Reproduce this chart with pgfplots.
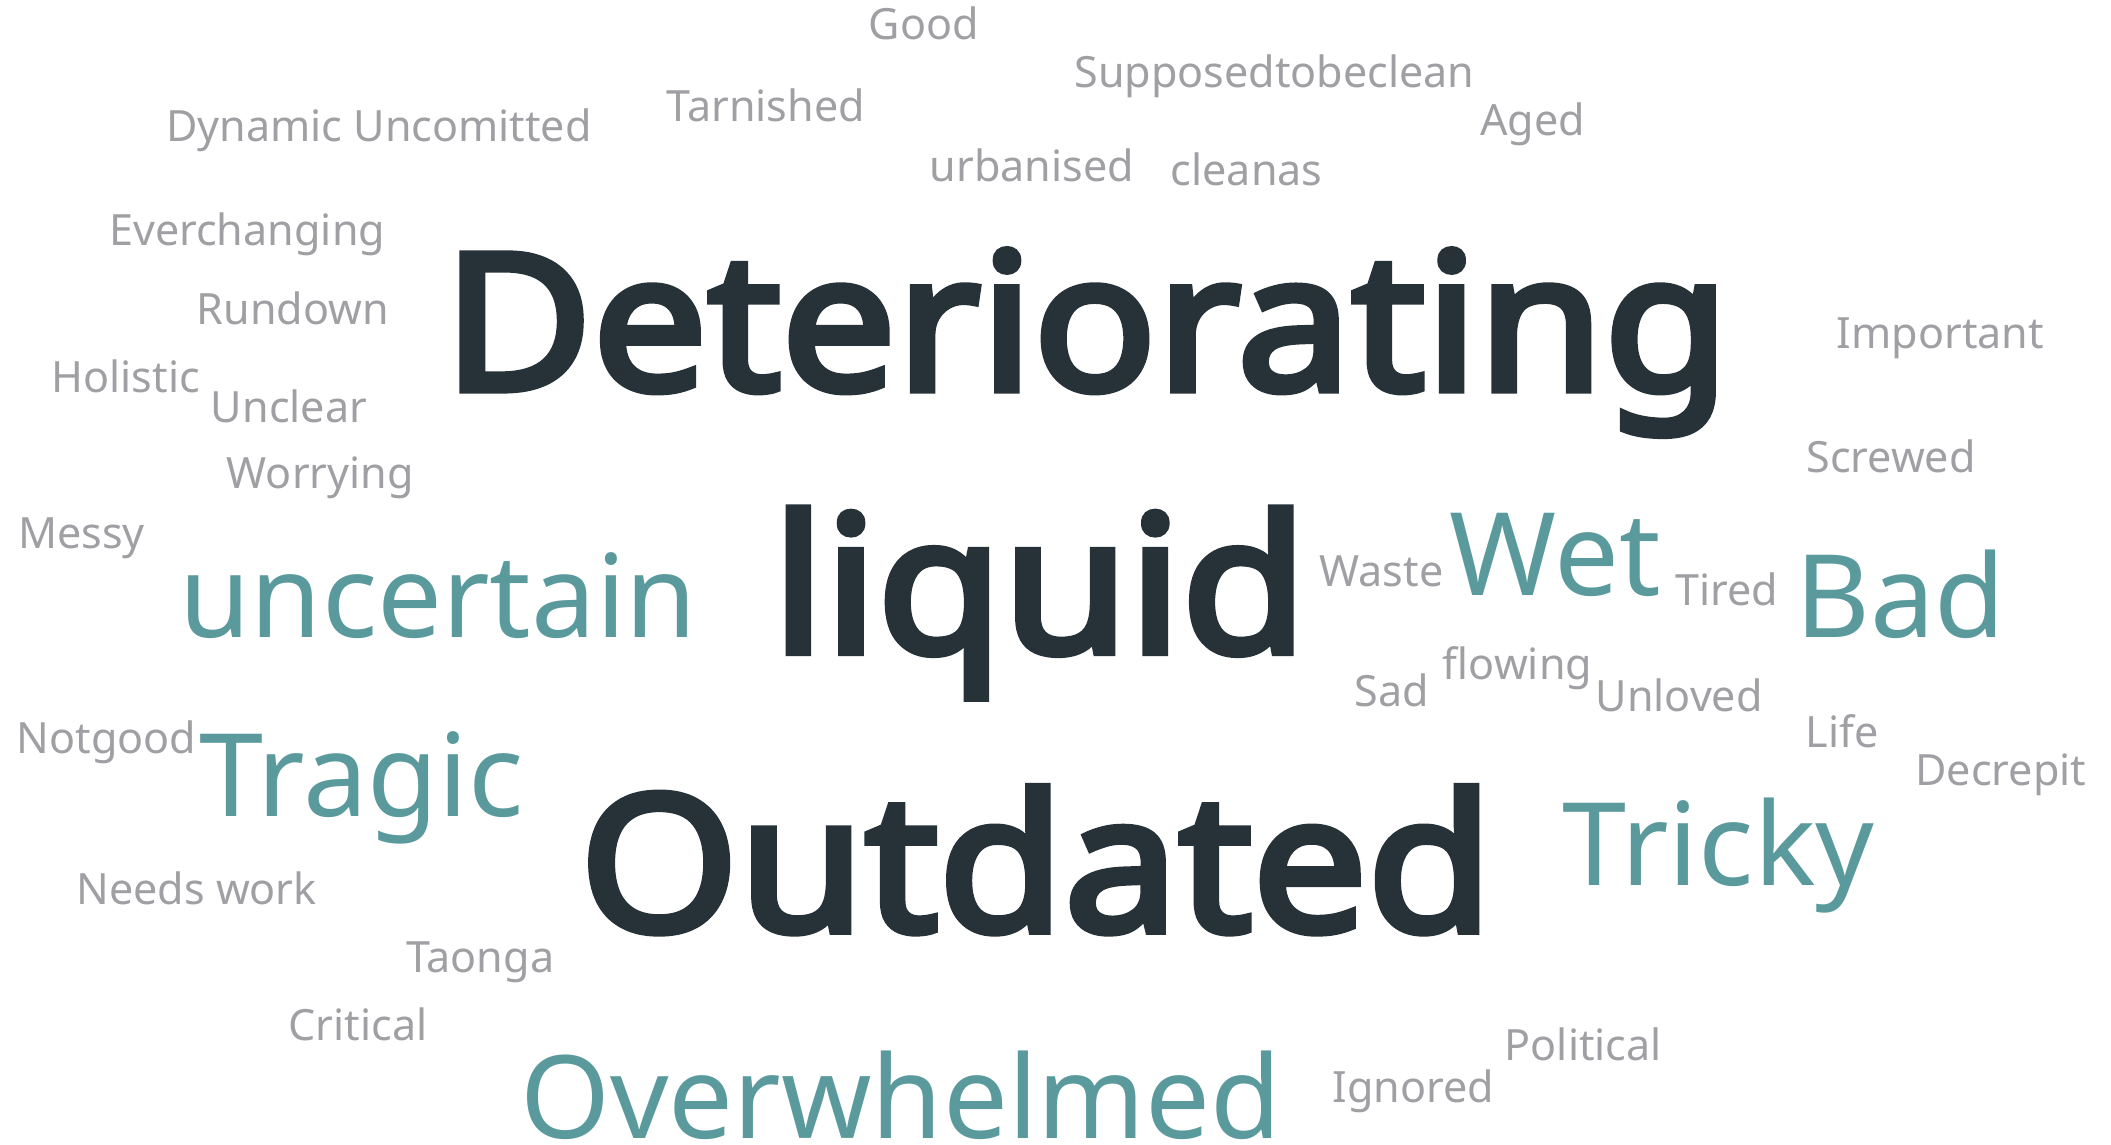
\documentclass[border=0pt]{standalone}
\usepackage{pgfplots}
\pgfplotsset{compat=1.18}
\usepackage{pgfplotstable}
\usepackage{fontspec}
\setmainfont{Noto Sans}
\newfontfamily\nsbold{Noto Sans}[FakeBold=4, FakeStretch=1.075]
\definecolor{cgray}{HTML}{A0A0A4}
\definecolor{cteal}{HTML}{5B9A9C}
\definecolor{cdark}{HTML}{263238}

\pgfplotstableread[col sep=comma]{
x,y,label
645,820.7,Good
797.7,784.9,Supposedtobeclean
494.7,760,Tarnished
123,744.8,Dynamic Uncomitted
1099,749.2,Aged
690.3,715.3,urbanised
869.3,712.3,cleanas
80.7,667.8,Everchanging
145.7,609.3,Rundown
1364,591.1,Important
38,558.6,Holistic
156.3,536.3,Unclear
1341.3,499,Screwed
168,487.5,Worrying
13,442.8,Messy
979.7,414.7,Waste
1244,400,Tired
1071.3,345,flowing
1005.7,325,Sad
1184.7,321.2,Unloved
1340.7,294.9,Life
12,290.3,Notgood
1422.3,266.4,Decrepit
56.3,178.3,Needs work
301.3,127.6,Taonga
214,77.2,Critical
1117.3,62.5,Political
989.3,31.4,Ignored
}\smallwords

\pgfplotstableread[col sep=comma]{
x,y,label
133,376.2,uncertain
1076,408,Wet
1333,376.2,Bad
147.8,243.4,Tragic
1160.5,191.9,Tricky
386,4,Overwhelmed
}\midwords

\pgfplotstableread[col sep=comma]{
x,y,label
329,560.5,Deteriorating
573,365.4,liquid
430,158.5,Outdated
}\bigwords

\begin{document}
\begin{tikzpicture}
\begin{axis}[
  x=0.5pt, y=0.5pt,
  xmin=0, xmax=1568, ymin=0, ymax=850,
  hide axis, clip=false,
  scale only axis,
]
\addplot[only marks, mark=*, mark size=0pt, mark options={draw=none, fill=none},
  nodes near coords, point meta=explicit symbolic,
  nodes near coords style={anchor=base west, inner sep=0pt, text=cgray,
    font=\fontsize{16}{19}\selectfont}]
  table[x=x, y=y, meta=label] {\smallwords};
\addplot[only marks, mark=*, mark size=0pt, mark options={draw=none, fill=none},
  nodes near coords, point meta=explicit symbolic,
  nodes near coords style={anchor=base west, inner sep=0pt, text=cteal,
    font=\fontsize{42.8}{50}\selectfont}]
  table[x=x, y=y, meta=label] {\midwords};
\addplot[only marks, mark=*, mark size=0pt, mark options={draw=none, fill=none},
  nodes near coords, point meta=explicit symbolic,
  nodes near coords style={anchor=base west, inner sep=0pt, text=cdark,
    font=\nsbold\fontsize{70.5}{80}\selectfont}]
  table[x=x, y=y, meta=label] {\bigwords};
\end{axis}
\pgfresetboundingbox
\useasboundingbox (current axis.south west) rectangle (current axis.north east);
\end{tikzpicture}
\end{document}
